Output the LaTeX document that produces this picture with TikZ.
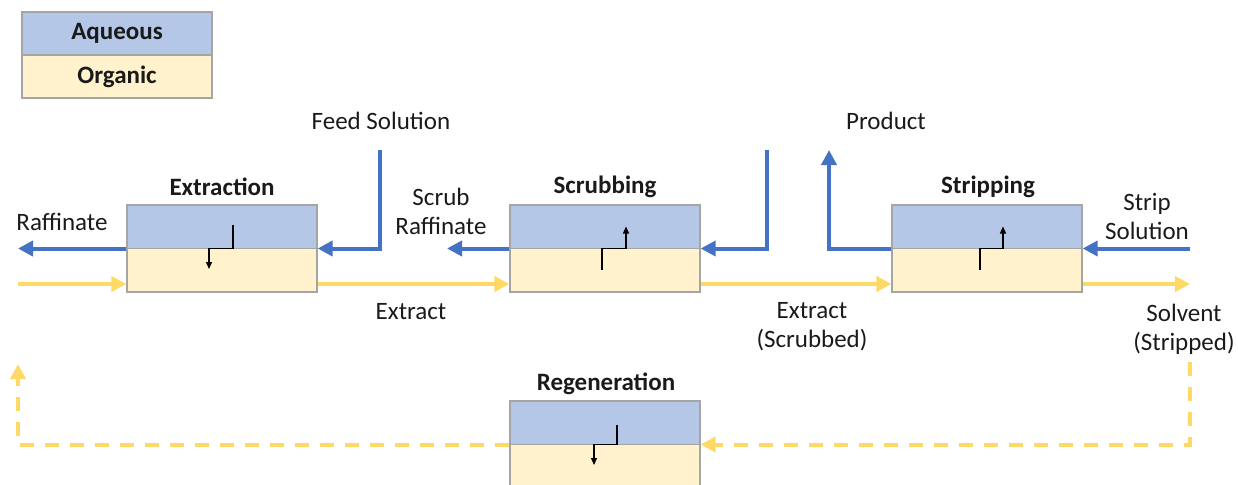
\documentclass[tikz,border=0pt]{standalone}
\usepackage{fontspec}
\setmainfont{Carlito}
\usetikzlibrary{arrows.meta}
\definecolor{aq}{HTML}{B4C7E7}
\definecolor{org}{HTML}{FFF2CC}
\definecolor{flowblue}{HTML}{4472C4}
\definecolor{flowyellow}{HTML}{FFD966}
\definecolor{edge}{HTML}{A5A5A5}
\definecolor{ink}{HTML}{1A1A1A}
\begin{document}
\begin{tikzpicture}[x=1pt,y=-1pt,
  lbl/.style={font=\fontsize{25}{29}\selectfont, align=center, inner sep=0, text=ink},
  ttl/.style={font=\fontsize{25}{29}\selectfont\bfseries, inner sep=0, text=ink},
  legcell/.style={draw=edge, line width=1.3pt, minimum width=190pt, minimum height=43pt, inner sep=0,
    font=\fontsize{25}{29}\selectfont\bfseries, text=ink},
  stage/.style={draw=edge, line width=1.3pt, minimum width=190pt, minimum height=87pt, inner sep=0, fill=org,
    path picture={\fill[aq] (path picture bounding box.north west) rectangle (path picture bounding box.east);
                  \draw[edge, line width=1.3pt] (path picture bounding box.west) -- (path picture bounding box.east);}},
  aqflow/.style={draw=flowblue, line width=4pt, -{Triangle[length=15pt,width=15pt]}},
  orgflow/.style={draw=flowyellow, line width=4pt, -{Triangle[length=15pt,width=15pt]}},
  recycle/.style={orgflow, dash pattern=on 14pt off 11pt},
  transfer/.style={draw=black, line width=1.3pt, -{Triangle[length=7pt,width=6pt]}}
]
\useasboundingbox (0,0) rectangle (1238,484);

% legend
\node[legcell, fill=aq]  (legaq)  at (117,33.5) {Aqueous};
\node[legcell, fill=org] (legorg) at (117,76.5) {Organic};

% stages
\node[stage] (ext) at (222,248.5) {};
\node[stage] (scr) at (605,248.5) {};
\node[stage] (str) at (987,248.5) {};
\node[stage] (reg) at (605,444.5) {};

\node[ttl] (extt) at (222,187) {Extraction};
\node[ttl] (scrt) at (605,187) {Scrubbing};
\node[ttl] (strt) at (988,187) {Stripping};
\node[ttl] (regt) at (606,384) {Regeneration};

% free ends of the streams
\coordinate (rafout) at (18,248.5);
\coordinate (feedin) at (380,150);
\coordinate (scrout) at (447,248.5);
\coordinate (scrin) at (767,150);
\coordinate (prodout) at (829,150);
\coordinate (stripin) at (1190,248.5);
\coordinate (solvin) at (18,284);
\coordinate (solvout) at (1190,284);
\coordinate (regin) at (1190,362);
\coordinate (regout) at (18,364);

% aqueous streams
\draw[aqflow] (ext.west) -- (rafout);
\draw[aqflow] (feedin) |- (ext.east);
\draw[aqflow] (scr.west) -- (scrout);
\draw[aqflow] (scrin) |- (scr.east);
\draw[aqflow] (str.west) -| (prodout);
\draw[aqflow] (stripin) -- (str.east);

% organic streams
\draw[orgflow] (solvin) -- ([yshift=-35.5pt]ext.west);
\draw[orgflow] ([yshift=-35.5pt]ext.east) -- ([yshift=-35.5pt]scr.west);
\draw[orgflow] ([yshift=-35.5pt]scr.east) -- ([yshift=-35.5pt]str.west);
\draw[orgflow] ([yshift=-35.5pt]str.east) -- (solvout);

% solvent recycle
\draw[recycle] (regin) |- (reg.east);
\draw[recycle] (reg.west) -| (regout);

% transfer between phases
\draw[transfer] ([shift={(11,-23.5)}]ext.center) -- ([shift={(11,0)}]ext.center)
  -- ([shift={(-13,0)}]ext.center) -- ([shift={(-13,20.5)}]ext.center);
\draw[transfer] ([shift={(-3,21.5)}]scr.center) -- ([shift={(-3,0)}]scr.center)
  -- ([shift={(21,0)}]scr.center) -- ([shift={(21,-22)}]scr.center);
\draw[transfer] ([shift={(-7,21.5)}]str.center) -- ([shift={(-7,0)}]str.center)
  -- ([shift={(16,0)}]str.center) -- ([shift={(16,-22)}]str.center);
\draw[transfer] ([shift={(12,-19.5)}]reg.center) -- ([shift={(12,0)}]reg.center)
  -- ([shift={(-11,0)}]reg.center) -- ([shift={(-11,20.5)}]reg.center);

% stream labels
\node[lbl] (lraf)   at (62,222)   {Raffinate};
\node[lbl] (lfeed)  at (381,121)  {Feed Solution};
\node[lbl] (lscr)   at (441,211)  {Scrub\\Raffinate};
\node[lbl] (lext)   at (411,312)  {Extract};
\node[lbl] (lprod)  at (886,121)  {Product};
\node[lbl] (lstrip) at (1147,216) {Strip\\Solution};
\node[lbl] (lexts)  at (812,327)  {Extract\\(Scrubbed)};
\node[lbl] (lsolv)  at (1184,329) {Solvent\\(Stripped)};
\end{tikzpicture}
\end{document}
